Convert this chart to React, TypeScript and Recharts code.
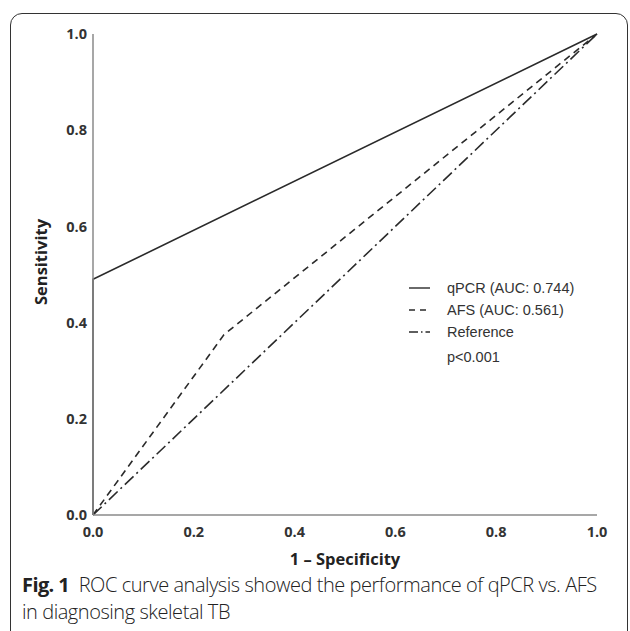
import React from "react";
import { LineChart, Line, XAxis, YAxis } from "recharts";

// tick values (both axes)
const xTicks = [0, 0.2, 0.4, 0.6, 0.8, 1.0];
const yTicks = [0, 0.2, 0.4, 0.6, 0.8, 1.0];

// ROC curves: 1 - specificity (x) vs sensitivity (y)
const qpcrX = [0, 0, 1];
const qpcrY = [0, 0.49, 1];
const afsX = [0, 0.26, 1];
const afsY = [0, 0.375, 1];
const refX = [0, 1];
const refY = [0, 1];

const seriesNames = ["qPCR (AUC: 0.744)", "AFS (AUC: 0.561)", "Reference"];
const pValueText = "p<0.001";

const toPoints = (xs: number[], ys: number[]) => xs.map((x, i) => ({ x, y: ys[i] }));

const series = [
  { name: seriesNames[0], data: toPoints(qpcrX, qpcrY), dash: undefined, legendDash: undefined },
  { name: seriesNames[1], data: toPoints(afsX, afsY), dash: "7 5", legendDash: "6 5" },
  { name: seriesNames[2], data: toPoints(refX, refY), dash: "12 4 2 4", legendDash: "9 3 1.5 3" },
];

const lineColor = "#2a2a2a";
const axisColor = "#8a8a8a";
const tickStyle = {
  fontFamily: "'Open Sans', sans-serif",
  fontSize: 14.5,
  fontWeight: 700,
  fill: "#333",
};
const titleStyle = { ...tickStyle, fontSize: 16.5, fill: "#222" };

function LegendBox() {
  const rows = [18, 40, 62];
  return (
    <svg
      width={230}
      height={100}
      style={{ position: "absolute", left: 400, top: 270 }}
    >
      {series.map((s, i) => (
        <g key={s.name}>
          <line
            x1={9}
            x2={30}
            y1={rows[i]}
            y2={rows[i]}
            stroke={lineColor}
            strokeWidth={1.4}
            strokeDasharray={s.legendDash}
          />
          <text
            x={47}
            y={rows[i]}
            dy="0.35em"
            fontFamily="'Liberation Sans', Arial, sans-serif"
            fontSize={14.5}
            fill="#333"
          >
            {s.name}
          </text>
        </g>
      ))}
      <text
        x={47}
        y={87}
        dy="0.35em"
        fontFamily="'Liberation Sans', Arial, sans-serif"
        fontSize={14.5}
        fill="#333"
      >
        {pValueText}
      </text>
    </svg>
  );
}

export default function App() {
  return (
    <div
      style={{
        position: "absolute",
        left: 0,
        top: 0,
        width: 630,
        height: 631,
        overflow: "hidden",
        background: "#fff",
      }}
    >
      <div
        style={{
          position: "absolute",
          left: 10,
          top: 13,
          width: 616,
          height: 700,
          border: "1.3px solid #333",
          borderRadius: 12,
        }}
      />
      <div style={{ position: "absolute", left: 0, top: 0 }}>
        <LineChart
          width={630}
          height={631}
          margin={{ top: 34, right: 33, bottom: 86, left: 33 }}
        >
          <XAxis
            type="number"
            dataKey="x"
            domain={[0, 1]}
            ticks={xTicks}
            tickFormatter={(v) => v.toFixed(1)}
            tickLine={false}
            axisLine={{ stroke: axisColor, strokeWidth: 1.5 }}
            tick={tickStyle}
            tickMargin={6}
            height={30}
            label={{
              value: "1 – Specificity",
              position: "insideBottom",
              offset: -20,
              style: titleStyle,
            }}
          />
          <YAxis
            type="number"
            dataKey="y"
            domain={[0, 1]}
            ticks={yTicks}
            tickFormatter={(v) => v.toFixed(1)}
            tickLine={false}
            axisLine={{ stroke: axisColor, strokeWidth: 1.5 }}
            tick={tickStyle}
            tickMargin={0}
            width={60}
            label={{
              content: () => (
                <text
                  x={40}
                  y={262}
                  transform="rotate(-90 40 262)"
                  textAnchor="middle"
                  dominantBaseline="central"
                  style={titleStyle}
                >
                  Sensitivity
                </text>
              ),
            }}
          />
          {series.map((s) => (
            <Line
              key={s.name}
              data={s.data}
              dataKey="y"
              name={s.name}
              type="linear"
              stroke={lineColor}
              strokeWidth={1.6}
              strokeDasharray={s.dash}
              dot={false}
              activeDot={false}
              isAnimationActive={false}
            />
          ))}
        </LineChart>
      </div>
      <LegendBox />
      <div
        style={{
          position: "absolute",
          left: 22,
          top: 571,
          width: 600,
          fontFamily: "'Open Sans', sans-serif",
          fontSize: 20,
          fontWeight: 300,
          lineHeight: "27px",
          color: "#222",
          letterSpacing: -0.45,
          whiteSpace: "nowrap",
        }}
      >
        <span style={{ fontWeight: 700, letterSpacing: -0.6 }}>Fig. 1</span>
        {"\u2002ROC curve analysis showed the performance of qPCR vs. AFS"}
        <br />
        in diagnosing skeletal TB
      </div>
    </div>
  );
}
